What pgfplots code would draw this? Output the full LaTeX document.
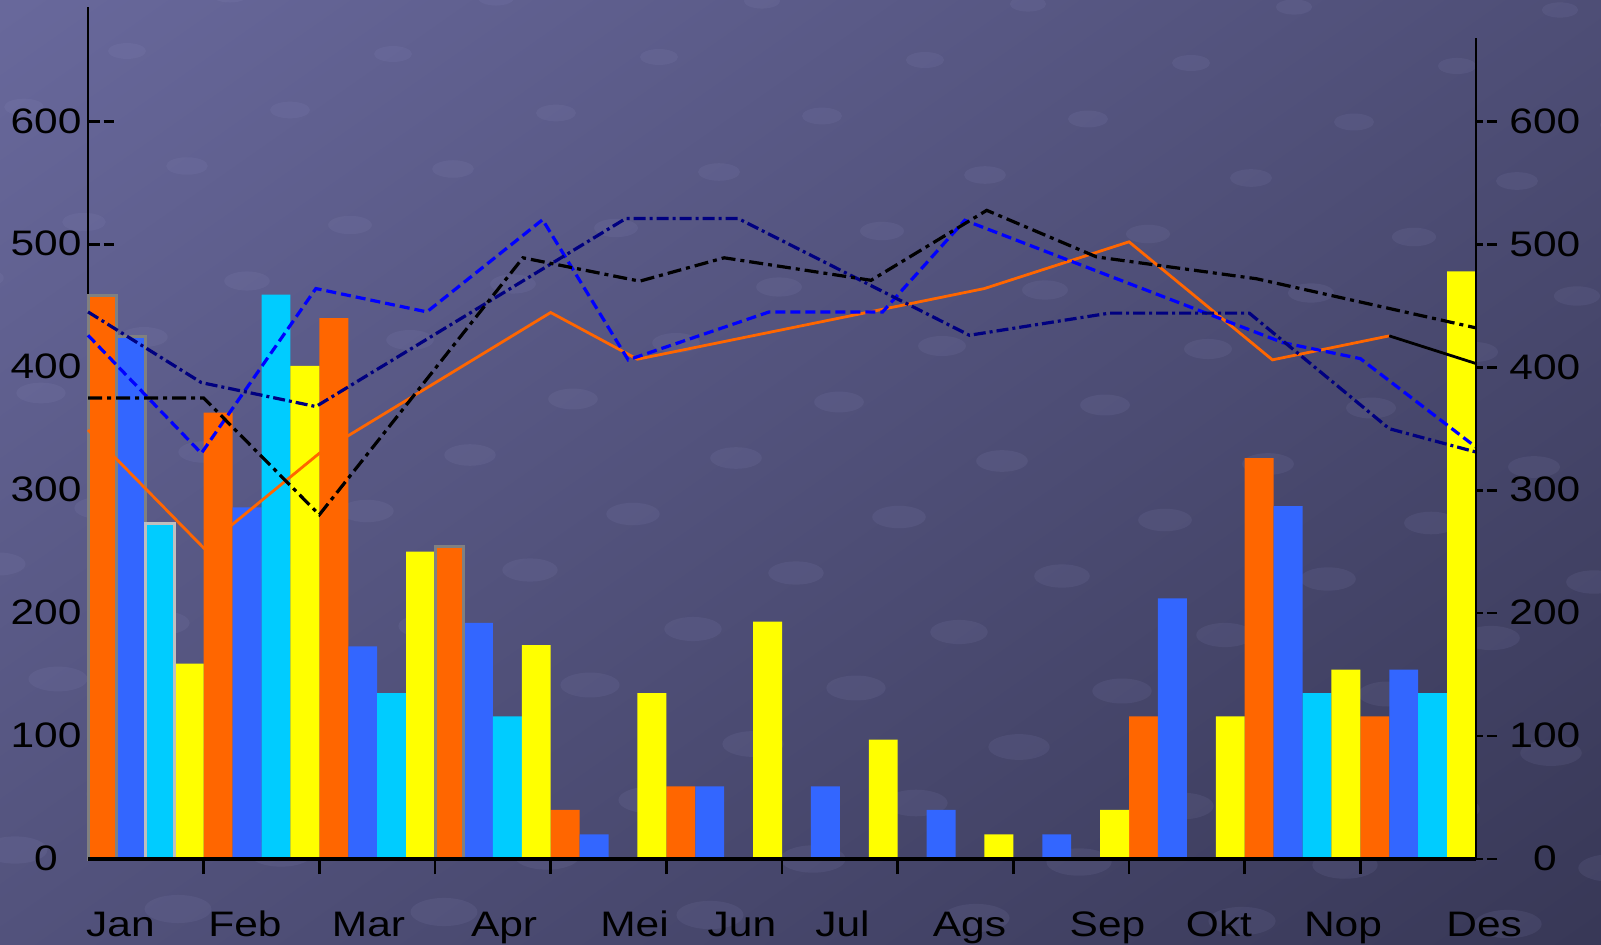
\documentclass[border=0pt]{standalone}
\usepackage{fontspec}
\setmainfont{Liberation Sans}
\usepackage{graphicx}
\usepackage{pgfplots}
\pgfplotsset{compat=1.18}
\definecolor{bgA}{RGB}{106,106,158}
\definecolor{bgB}{RGB}{54,54,84}
\definecolor{cOr}{HTML}{FF6600}
\definecolor{cBl}{HTML}{3366FF}
\definecolor{cCy}{HTML}{00CCFF}
\definecolor{cYe}{HTML}{FFFF00}
\definecolor{cNavy}{HTML}{000080}
\definecolor{cBlue}{HTML}{0000FF}
\definecolor{dotc}{RGB}{150,150,200}
\newcommand{\sx}[1]{\scalebox{1.2}[1]{#1}}
\pgfplotsset{
  base/.style={at={(44pt,42.5pt)}, anchor=south west, scale only axis,
    /pgf/number format/assume math mode=true,
    tick label style={font=\fontsize{17.7}{21}\selectfont, text=black}},
  bars/.style={ybar, bar width=0.25, bar shift=0pt, draw=none},
}
\begin{document}
\begin{tikzpicture}
\useasboundingbox (0,0) rectangle (800.5pt,472pt);
\begin{scope}
\clip (0,0) rectangle (800.5pt,472pt);
\shade[top color=bgA, bottom color=bgB, shading angle=35] (-150pt,-150pt) rectangle (950pt,622pt);
% faint background texture of ellipses
\foreach \i in {-12,...,12}{
  \foreach \j in {-7,...,7}{
    \pgfmathsetmacro{\px}{295+51.5*\i-30*\j}
    \pgfmathsetmacro{\py}{129.5+28*\i+57.5*\j}
    \pgfmathsetmacro{\rx}{17-8*\py/472}
    \fill[dotc, opacity=0.11] (\px pt,\py pt) ellipse [x radius=\rx pt, y radius=0.42*\rx pt];
  }
}
\end{scope}

% main axis: data, left y axis
\begin{axis}[base, width=694pt, height=426pt,
  xmin=0, xmax=12, ymin=0, ymax=693,
  axis x line*=bottom, axis y line*=left,
  axis line style={line width=1.4pt, black},
  xtick=\empty,
  ytick={0,100,...,600},
  tick align=inside, major tick length=17pt,
  ytick style={line width=1.3pt, black, dash pattern=on 5.8pt off 2pt on 5.2pt off 30pt},
  yticklabel={\sx{\pgfmathprintnumber{\tick}}},
  yticklabel style={anchor=base, xshift=-21pt, yshift=-5.85pt},
  clip=false]
% bars
\addplot[bars, fill=cOr] coordinates {(0.125,458) (1.125,363) (2.125,440) (3.125,254) (4.125,40) (5.125,59) (9.125,116) (10.125,326) (11.125,116)};
\addplot[bars, fill=cBl] coordinates {(0.375,425) (1.375,286) (2.375,173) (3.375,192) (4.375,20) (5.375,59) (6.375,59) (7.375,40) (8.375,20) (9.375,212) (10.375,287) (11.375,154)};
\addplot[bars, fill=cCy] coordinates {(0.625,273) (1.625,459) (2.625,135) (3.625,116) (10.625,135) (11.625,135)};
\addplot[bars, fill=cYe] coordinates {(0.875,159) (1.875,401) (2.875,250) (3.875,174) (4.875,135) (5.875,193) (6.875,97) (7.875,20) (8.875,40) (9.875,116) (10.875,154) (11.875,478)};
% bordered bars
\addplot[ybar, bar width=0.25, bar shift=0pt, fill=cOr, draw=gray, line width=1.5pt] coordinates {(0.125,458) (3.125,254)};
\addplot[ybar, bar width=0.25, bar shift=0pt, fill=cBl, draw=gray, line width=1.5pt] coordinates {(0.375,425)};
\addplot[ybar, bar width=0.25, bar shift=0pt, fill=cCy, draw=lightgray, line width=1.5pt] coordinates {(0.625,273)};
% lines
\addplot[cOr, line width=1.4pt, mark=none] coordinates {(0,349) (1,253) (2,330) (4,444.5) (4.75,406.5) (7.75,464) (9,502) (10.24,406) (11.25,425.5)};
\addplot[black, line width=1.4pt, mark=none] coordinates {(11.25,425.5) (12,403)};
\addplot[cBlue, line width=1.6pt, mark=none, dash pattern=on 5pt off 2.5pt] coordinates {(0,426) (0.98,330) (1.97,464) (2.93,445) (3.93,520) (4.67,406) (5.89,445) (6.87,445) (7.58,519.5) (10.33,420) (11,407) (12,335)};
\addplot[cNavy, line width=1.6pt, mark=none, dash pattern=on 6pt off 2pt on 1.5pt off 2pt] coordinates {(0,445) (0.98,387.5) (1.97,368) (4.65,521) (5.62,521) (7.62,426) (8.83,444) (10.04,444) (11.25,350) (12,331)};
\addplot[black, line width=1.6pt, mark=none, dash pattern=on 7pt off 2.5pt on 2pt off 2.5pt] coordinates {(0,375) (1,375) (2,280) (3.76,489) (4.77,470) (5.5,489) (6.77,470.7) (7.77,527.6) (8.72,489.7) (10.1,472) (12,432)};
\end{axis}

% right y axis
\begin{axis}[base, width=694pt, height=410.5pt,
  xmin=0, xmax=12, ymin=0, ymax=668,
  axis x line=none, axis y line*=right,
  axis line style={line width=1.4pt, black},
  ytick={0,100,...,600},
  tick align=outside, major tick length=10.4pt,
  ytick style={line width=1.3pt, black, dash pattern=on 5pt off 2pt on 3.4pt off 30pt},
  yticklabel={\sx{\pgfmathprintnumber{\tick}}},
  yticklabel style={anchor=base, xshift=24pt, yshift=-5.85pt}]
\end{axis}

% bottom ticks
\begin{axis}[base, width=694pt, height=426pt,
  xmin=0, xmax=12, ymin=0, ymax=693,
  axis y line=none, axis x line*=bottom,
  axis line style={line width=1.7pt, black},
  xtick={1,...,11}, xticklabels={},
  tick align=outside, major tick length=7.5pt,
  xtick style={line width=1.4pt, black}]
\end{axis}

% month labels
\begin{axis}[base, width=722.917pt, height=426pt,
  xmin=0, xmax=12.5, ymin=0, ymax=1,
  axis y line=none, axis x line*=bottom,
  x axis line style={draw=none},
  xtick={0.28,1.357,2.425,3.597,4.725,5.654,6.523,7.621,8.814,9.778,10.85,12.07},
  xticklabels={\sx{Jan},\sx{Feb},\sx{Mar},\sx{Apr},\sx{Mei},\sx{Jun},\sx{Jul},\sx{Ags},\sx{Sep},\sx{Okt},\sx{Nop},\sx{Des}},
  xtick style={draw=none}, major tick length=0pt,
  xticklabel style={anchor=base, yshift=-38.5pt}]
\end{axis}
\end{tikzpicture}
\end{document}
